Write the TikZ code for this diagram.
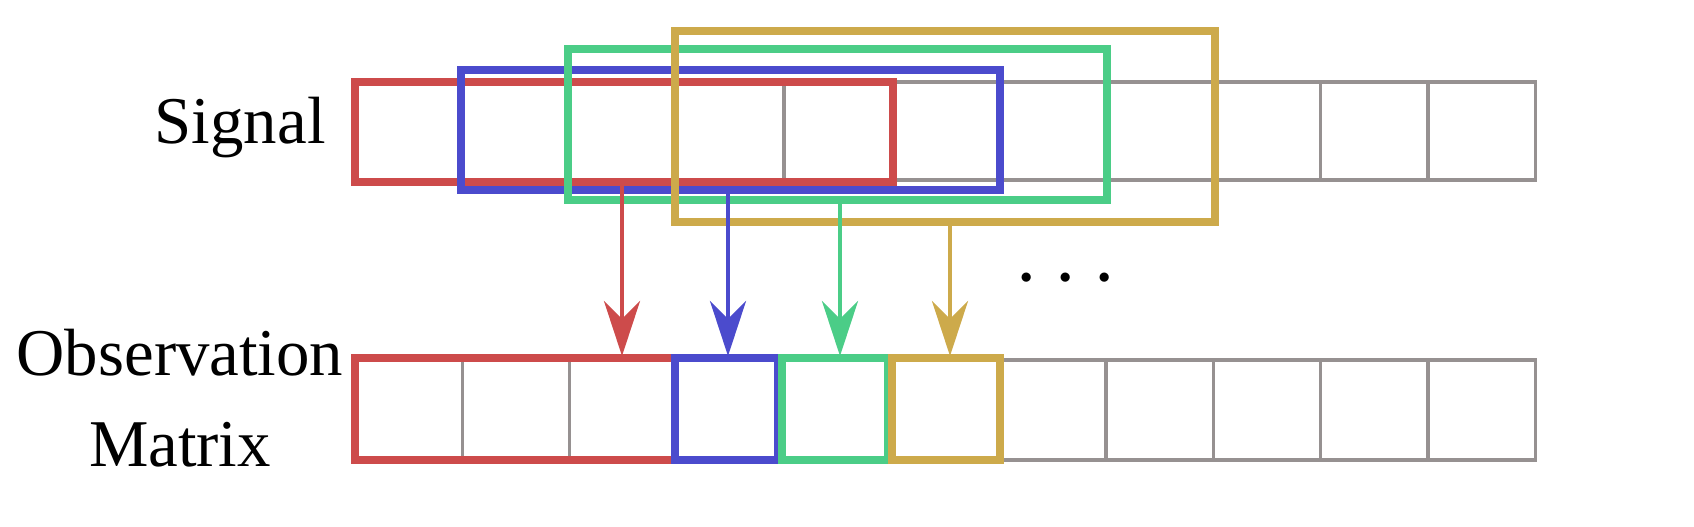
\documentclass[tikz,border=0pt]{standalone}
\usepackage{fontspec}
\setmainfont{Liberation Serif}
\usetikzlibrary{arrows.meta}
\definecolor{cr}{RGB}{205,75,75}
\definecolor{cb}{RGB}{75,75,205}
\definecolor{cg}{RGB}{75,205,135}
\definecolor{cy}{RGB}{205,170,75}
\definecolor{cgr}{RGB}{150,145,145}
\begin{document}
\begin{tikzpicture}[x=0.01cm,y=-0.01cm,
  cell/.style={draw=cgr,line width=1pt},
  win/.style={line width=2.4pt},
  arr/.style={line width=1.4pt,-{Stealth[length=0.55cm,width=0.36cm]}},
  lab/.style={font=\fontsize{19}{22}\selectfont}]
\path[use as bounding box] (0,0) rectangle (1694,526);
\foreach \i in {0,...,10}{
  \draw[cell] (355+\i*107.3,82) rectangle ++(107.3,98);
  \draw[cell] (355+\i*107.3,360) rectangle ++(107.3,100);
}
\draw[win,cr] (355,82) rectangle (893,182);
\draw[win,cb] (461,70) rectangle (1000,190);
\draw[win,cg] (568,49) rectangle (1107,200);
\draw[win,cy] (675,31) rectangle (1215,222);
\draw[win,cr] (355,358) rectangle (675,460);
\draw[win,cb] (675,358) rectangle (778,460);
\draw[win,cg] (782,358) rectangle (888,460);
\draw[win,cy] (892,358) rectangle (1000,460);
\coordinate (r1) at (622,182); \coordinate (r2) at (622,356);
\coordinate (b1) at (728,190); \coordinate (b2) at (728,356);
\coordinate (g1) at (840,200); \coordinate (g2) at (840,356);
\coordinate (y1) at (950,222); \coordinate (y2) at (950,356);
\draw[arr,cr] (r1) -- (r2);
\draw[arr,cb] (b1) -- (b2);
\draw[arr,cg] (g1) -- (g2);
\draw[arr,cy] (y1) -- (y2);
\node[lab,anchor=east] (sig) at (338,128) {Signal};
\node[lab,align=center] (obs) at (180,398) {Observation\\[4pt]Matrix};
\node[font=\fontsize{26}{28}\selectfont] (dots) at (1066,280) {$\cdots$};
\end{tikzpicture}
\end{document}
